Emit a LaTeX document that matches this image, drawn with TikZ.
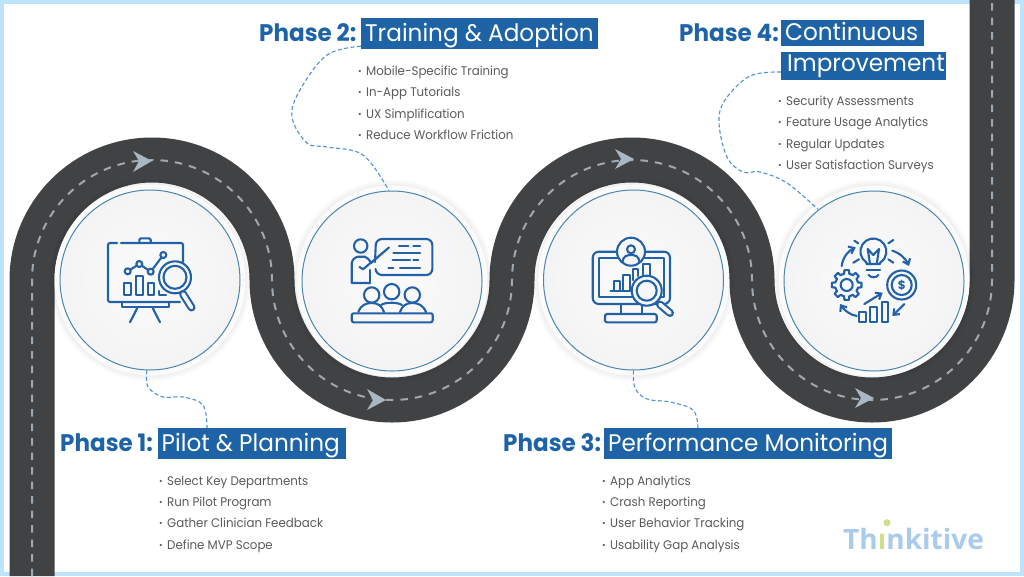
\documentclass[tikz,border=0pt]{standalone}
\usepackage{fontspec}
\usetikzlibrary{arrows.meta,calc}
\setmainfont{Poppins}
\newfontfamily\titlefont[FakeStretch=0.965]{Poppins}
\newfontfamily\phasefont[FakeStretch=0.96]{Poppins}
\newfontfamily\itemfont[FakeStretch=0.945]{Poppins}
\newfontfamily\logofont{Open Sans}
\definecolor{frameblue}{HTML}{BDE3FD}
\definecolor{roadgray}{HTML}{414244}
\definecolor{lanegray}{HTML}{9DA8B1}
\definecolor{arrowgray}{HTML}{A9B7C4}
\definecolor{titleblue}{HTML}{1D63A6}
\definecolor{iconblue}{HTML}{2261A8}
\definecolor{ringblue}{HTML}{4A86B0}
\definecolor{dashblue}{HTML}{4C93DA}
\definecolor{bodygray}{HTML}{5A5B5E}
\definecolor{logoblue}{HTML}{A9CBEC}
\definecolor{logogreen}{HTML}{CFE08C}
\pgfdeclareradialshading{halo}{\pgfpoint{0bp}{0bp}}{rgb(0bp)=(.985,.985,.99);rgb(25bp)=(.955,.955,.96);rgb(40bp)=(.90,.90,.91);rgb(50bp)=(.83,.83,.84)}
\newcommand{\bul}[1]{\makebox[8pt][l]{\raisebox{1pt}{\fontsize{9}{9}\selectfont •}}#1}
\newcommand{\ttlbox}[2]{\makebox[#1][l]{\hspace{4pt}#2}}
\tikzset{
 road/.style={draw=roadgray,line width=45pt},
 lane/.style={draw=lanegray,line width=2pt,dash pattern=on 7.5pt off 7pt},
 dir/.style={fill=arrowgray,draw=none},
 disc/.style={circle,minimum size=180pt,inner sep=0pt,draw=ringblue,line width=1pt,shade,shading=halo},
 ttl/.style={fill=titleblue,text=white,inner sep=0pt,anchor=west,font=\titlefont\fontsize{24}{24}\selectfont,text height=16pt,text depth=1pt,minimum height=31pt},
 phase/.style={text=titleblue,inner sep=0pt,anchor=base west,font=\phasefont\bfseries\fontsize{24}{24}\selectfont},
 item/.style={text=bodygray,inner sep=0pt,anchor=mid west,font=\itemfont\fontsize{12.5}{12.5}\selectfont},
 link/.style={draw=dashblue,line width=1.1pt,dash pattern=on 4pt off 2.5pt},
 ico/.style={draw=iconblue,line width=2.1pt,line cap=round,line join=round},
 icof/.style={ico,fill=white!94!gray},
 barb/.style={ico,-{Straight Barb[length=5pt,width=8pt,line width=2.1pt]}}
}
\begin{document}
\begin{tikzpicture}[x=1pt,y=-1pt]
\useasboundingbox (0,0) rectangle (1024,576);
\fill[white] (0,0) rectangle (1024,576);
\draw[frameblue,line width=4pt] (2,2) rectangle (1022,574);
% road
\def\roadpath{(32,576) -- (32,280) arc[start angle=180,end angle=360,radius=120] arc[start angle=180,end angle=0,radius=120] arc[start angle=180,end angle=360,radius=120] arc[start angle=180,end angle=0,radius=120] -- (992,0)}
\draw[road] \roadpath;
\draw[lane] \roadpath;
\fill[dir] (133,151) -- (152,161) -- (133,172) -- (139,161) -- cycle;
\fill[dir] (367,389) -- (386,400) -- (367,410) -- (373,400) -- cycle;
\fill[dir] (615,149) -- (634,159) -- (615,169) -- (621,159) -- cycle;
\fill[dir] (855,388) -- (874,398) -- (855,408) -- (861,398) -- cycle;
% circles
\foreach \cx/\cy in {150/280,392/281,633.5/280,874/281}{
  \foreach \r in {101,99,97}{\fill[black,opacity=.018] (\cx,\cy) circle[radius=\r];}
  \fill[white!97!gray] (\cx,\cy) circle[radius=95.5];
}
\node[disc] (c1) at (150,280) {};
\node[disc] (c2) at (392,281) {};
\node[disc] (c3) at (633.5,280) {};
\node[disc] (c4) at (874,281) {};
% titles
\node[ttl] (t1) at (157.5,443.5) {\ttlbox{188.5pt}{Pilot \& Planning}};
\node[ttl] (t2) at (361,33.5) {\ttlbox{237pt}{Training \& Adoption}};
\node[ttl] (t3) at (604,443.5) {\ttlbox{288pt}{Performance Monitoring}};
\node[ttl,minimum height=26pt] (t4a) at (781,33) {\ttlbox{143pt}{Continuous}};
\node[ttl,minimum height=28pt,text height=13pt,text depth=1.6pt] (t4b) at (781,66) {\makebox[165pt][l]{\hspace{6pt}Improvement}};
\node[phase] (p1) at (60,451) {Phase 1:};
\node[phase] (p2) at (259,41) {Phase 2:};
\node[phase] (p3) at (503,451) {Phase 3:};
\node[phase] (p4) at (679,41) {Phase 4:};
% lists
\node[item] (a1) at (159,483) {\bul{Select Key Departments}};
\node[item] (a2) at (159,504) {\bul{Run Pilot Program}};
\node[item] (a3) at (159,525) {\bul{Gather Clinician Feedback}};
\node[item] (a4) at (159,547) {\bul{Define MVP Scope}};
\node[item] (b1) at (358,73) {\bul{Mobile-Specific Training}};
\node[item] (b2) at (358,94) {\bul{In-App Tutorials}};
\node[item] (b3) at (358,116) {\bul{UX Simplification}};
\node[item] (b4) at (358,137) {\bul{Reduce Workflow Friction}};
\node[item] (d1) at (602,483) {\bul{App Analytics}};
\node[item] (d2) at (602,504) {\bul{Crash Reporting}};
\node[item] (d3) at (602,525) {\bul{User Behavior Tracking}};
\node[item] (d4) at (602,547) {\bul{Usability Gap Analysis}};
\node[item] (e1) at (778,103) {\bul{Security Assessments}};
\node[item] (e2) at (778,124) {\bul{Feature Usage Analytics}};
\node[item] (e3) at (778,146) {\bul{Regular Updates}};
\node[item] (e4) at (778,167) {\bul{User Satisfaction Surveys}};
% connectors
\coordinate (j1) at ($(t1.north west)+(49.5,0)$);
\coordinate (j2) at ($(t2.south west)+(0,-3)$);
\coordinate (j3) at ($(t3.north west)+(94,0)$);
\coordinate (j4) at ($(t4b.west)+(0,6)$);
\draw[link] plot[smooth,tension=.6] coordinates {(c1.268) (148,387) (163,397) (183,397) (203,405) (j1)};
\draw[link] plot[smooth,tension=.6] coordinates {(j2) (327,55) (300,90) (292,117) (307,143) (327,147) (363,155) (c2.92)};
\draw[link] plot[smooth,tension=.6] coordinates {(c3.270) (635,388) (647,399) (670,402) (693,410) (j3)};
\draw[link] plot[smooth,tension=.6] coordinates {(j4) (750,76) (725,100) (719,123) (727,157) (743,172) (760,172) (787,183) (c4.128)};
% icon 1
\draw[ico,rounded corners=2pt] (180,302) -- (108,302) -- (108,243) -- (117,243);
\draw[ico,rounded corners=2pt] (121,243) -- (183,243) -- (183,262);
\draw[ico,rounded corners=1.5pt] (139.3,242.7) -- (139.3,238.3) -- (150.7,238.3) -- (150.7,242.7);
\draw[ico] (121.7,303) -- (121.7,307.3) -- (169.3,307.3) -- (169.3,303);
\draw[ico] (137.3,308) -- (130,322.3);
\draw[ico] (152.7,308) -- (160,322.3);
\draw[ico] (127.7,271.3) -- (139.3,264) -- (150.7,271.7) -- (163.3,255);
\foreach \px/\py in {127.7/271.3,139.3/264,150.7/271.7,163.3/255}{\draw[icof] (\px,\py) circle[radius=3];}
\draw[ico] (124.3,283.3) rectangle (130.7,295.3);
\draw[ico] (136,276) rectangle (142.7,295.3);
\draw[ico] (148,283.3) rectangle (154,295.3);
\draw[ico] (159.3,291) -- (159.3,295.3) -- (166,295.3);
\draw[icof] (175,277.3) circle[radius=16];
\draw[ico] (175,277.3) circle[radius=11.5];
\draw[ico,line width=8pt] (183,294) -- (191.5,307.5);
\draw[line width=3.8pt,white!94!gray,line cap=round] (183,294) -- (191.5,307.5);
% icon 2
\draw[ico] (360.7,246) circle[radius=6.7];
\draw[ico] (370,283) -- (351.7,283) -- (351.7,263.3) to[bend left=35] (358,256.7) -- (365,256.7) to[bend left=20] (371,263) -- (389,247.5) -- (363,269.3) -- (359.5,267);
\draw[ico] (370,270) -- (370,283);
\draw[ico,rounded corners=6pt] (375,262) -- (376,239) -- (432.3,239) -- (432.3,275) -- (376,275) -- (375.5,269);
\foreach \ya/\xa/\xb in {245.7/399/408.3,245.7/413.3/420,253/393.3/420,260.3/392.7/410,260.3/413.3/418.3,268.3/388.3/393.3,268.3/400/420}{\draw[ico] (\xa,\ya) -- (\xb,\ya);}
\draw[ico] (371.7,295) circle[radius=7.7];
\draw[ico] (391.7,291.7) circle[radius=7.7];
\draw[ico] (412.3,295) circle[radius=7.7];
\draw[ico] (358.3,312) .. controls (361,305) and (366,303) .. (371.7,303) .. controls (378,303) and (382,306) .. (384,312);
\draw[ico] (381,305) .. controls (385,302) and (398,302) .. (402,305);
\draw[ico] (400,312) .. controls (402,306) and (406,303) .. (412.3,303) .. controls (418,303) and (423,305) .. (426,312);
\draw[ico,rounded corners=2pt] (351.7,313.3) rectangle (432.7,322.3);
% icon 3
\draw[ico,rounded corners=6pt] (592.7,251.7) rectangle (670,304);
\draw[ico] (599,258.3) rectangle (664.3,297.3);
\draw[icof] (631,251.7) circle[radius=14];
\draw[ico] (631,249.3) circle[radius=4];
\draw[ico] (622.5,262) .. controls (623,256) and (627,255) .. (631,255) .. controls (635,255) and (639,256) .. (639.5,262);
\draw[ico] (621,304) -- (621,314);
\draw[ico] (641.7,304) -- (641.7,314);
\draw[ico,rounded corners=2pt] (605,314) rectangle (656.7,322.3);
\draw[ico] (610.7,290.7) -- (632.3,290.7);
\draw[ico] (614,290.7) -- (614,280.7) -- (620,280.7) -- (620,290.7);
\draw[ico] (623.3,290.7) -- (623.3,275) -- (630,275) -- (630,290.7);
\draw[ico] (633.3,280) -- (633.3,269.3) -- (638.3,269.3) -- (638.3,276);
\draw[ico] (643.3,275) -- (643.3,264) -- (650,264) -- (650,275);
\draw[icof] (646.7,290.7) circle[radius=15];
\draw[ico] (646.7,290.7) circle[radius=10];
\draw[ico,line width=8pt] (660,304.5) -- (670,313);
\draw[line width=3.8pt,white!94!gray,line cap=round] (660,304.5) -- (670,313);
% icon 4
\draw[ico] (866.5,262.5) arc[start angle=122,end angle=418,radius=13] -- (880,264) -- (866.5,264) -- cycle;
\draw[ico] (866.7,270) -- (880,270);
\draw[ico] (868.5,275) .. controls (871,278) and (876,278) .. (878.5,275);
\draw[ico] (870,264) -- (867.7,249) -- (873.3,255) -- (879,249) -- (876.7,264);
\draw[ico] (854.3,240.7) -- (858.3,243.3);
\draw[ico] (853.3,262.7) -- (859,259.3);
\draw[ico] (893.3,240) -- (888.3,243.3);
\draw[ico] (893.3,262.7) -- (888.3,259.3);
\foreach \g in {0,45,...,315}{
 \draw[ico] ($(846.7,285)+({\g-23}:11.5)$) -- ($(846.7,285)+({\g-13}:11.5)$) -- ($(846.7,285)+({\g-9}:15)$) -- ($(846.7,285)+({\g+9}:15)$) -- ($(846.7,285)+({\g+13}:11.5)$) -- ($(846.7,285)+({\g+22}:11.5)$);
}
\draw[ico] (846.7,285) circle[radius=6];
\draw[ico] (901.7,285) circle[radius=14.5];
\draw[ico] (901.7,285) circle[radius=10];
\node[text=iconblue,inner sep=0pt,font=\bfseries\fontsize{12}{12}\selectfont] (dollar) at (901.7,285) {\$};
\draw[ico] (859,311.7) rectangle (865.7,322.3);
\draw[ico] (870,306.7) rectangle (876.7,322.3);
\draw[ico] (881.7,302.3) rectangle (888.3,322.3);
\draw[barb] (864.3,304) -- (882.7,292.7);
\draw[barb] (841.7,266) .. controls (842.5,258) and (848,251) .. (855.7,247.3);
\draw[barb] (892.3,250.7) .. controls (900,253) and (906,259) .. (909,266);
\draw[barb] (904.3,304) -- (892.3,316);
\draw[barb] (856.7,316) .. controls (850,315) and (844,310) .. (840,304);
% logo
\node[inner sep=0pt,anchor=base west,text=logoblue,font=\logofont\bfseries\fontsize{28}{28}\selectfont] (logo) at (843,549) {Th\textcolor{logogreen}{ı}nkitive};
\fill[logogreen] (887,522.7) circle[radius=3.6];
\end{tikzpicture}
\end{document}
